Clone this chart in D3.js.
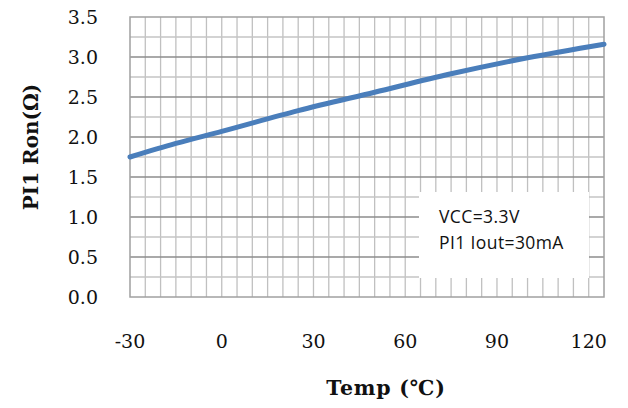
<!DOCTYPE html>
<html>
<head>
<meta charset="utf-8">
<script src="https://cdn.jsdelivr.net/npm/d3@7"></script>
<style>
  html, body { margin: 0; padding: 0; background: #fff; }
  svg { display: block; }
</style>
</head>
<body>
<div id="chart"></div>
<script>
// measured Ron vs temperature
const temps = [-30, -15, 0, 25, 50, 75, 100, 125];
const ron   = [1.75, 1.92, 2.07, 2.33, 2.56, 2.79, 2.99, 3.16];
const xTicks = [-30, 0, 30, 60, 90, 120];
const yTicks = [0, 0.5, 1, 1.5, 2, 2.5, 3, 3.5];
const notes = ['VCC=3.3V', 'PI1 Iout=30mA'];

const W = 628, H = 408, m = { t: 17, r: 24, b: 111, l: 130 };
const x = d3.scaleLinear().domain([-30, 125]).range([m.l, W - m.r]);
const y = d3.scaleLinear().domain([0, 3.5]).range([H - m.b, m.t]);

const svg = d3.select('#chart').append('svg').attr('width', W).attr('height', H);

// grid: vertical every 5 deg, horizontal every 0.25 (darker on 0.5)
svg.append('g').selectAll('line').data(d3.range(-25, 125, 5)).join('line')
  .attr('x1', d => x(d)).attr('x2', d => x(d)).attr('y1', y(0)).attr('y2', y(3.5))
  .attr('stroke', '#c0c0c0').attr('stroke-width', 1.3);
svg.append('g').selectAll('line').data(d3.range(0.25, 3.5, 0.25)).join('line')
  .attr('x1', x(-30)).attr('x2', x(125)).attr('y1', d => y(d)).attr('y2', d => y(d))
  .attr('stroke', d => Math.abs(d * 2 - Math.round(d * 2)) < 1e-6 ? '#8c8c8c' : '#c4c4c4')
  .attr('stroke-width', 1.3);
svg.append('rect').attr('x', x(-30)).attr('y', y(3.5))
  .attr('width', x(125) - x(-30)).attr('height', y(0) - y(3.5))
  .attr('fill', 'none').attr('stroke', '#a0a0a0').attr('stroke-width', 1.5);

// note box
const box = svg.append('g');
box.append('rect').attr('x', 419).attr('y', 192).attr('width', 170).attr('height', 86).attr('fill', '#fff');
box.selectAll('text').data(notes).join('text')
  .attr('x', 439).attr('y', (d, i) => 223 + i * 26)
  .attr('font-family', '"Open Sans", sans-serif').attr('font-size', 17.5)
  .attr('letter-spacing', 0.4).attr('fill', '#111')
  .text(d => d);

// line
svg.append('path').datum(temps.map((t, i) => [t, ron[i]]))
  .attr('fill', 'none').attr('stroke', '#4a7ebb').attr('stroke-width', 5).attr('stroke-linecap', 'round')
  .attr('d', d3.line().x(d => x(d[0])).y(d => y(d[1])).curve(d3.curveMonotoneX));

// tick labels
const serif = '"DejaVu Serif", serif';
svg.append('g').selectAll('text').data(yTicks).join('text')
  .attr('x', 98).attr('y', d => y(d) + 7).attr('text-anchor', 'end')
  .attr('font-family', serif).attr('font-size', 19).attr('fill', '#111')
  .text(d3.format('.1f'));
svg.append('g').selectAll('text').data(xTicks).join('text')
  .attr('x', d => x(d)).attr('y', 348).attr('text-anchor', 'middle')
  .attr('font-family', serif).attr('font-size', 19).attr('fill', '#111')
  .text(d => d);

// axis titles
svg.append('text').attr('x', 386).attr('y', 395).attr('text-anchor', 'middle')
  .attr('font-family', serif).attr('font-weight', 'bold').attr('font-size', 20.5)
  .attr('letter-spacing', 0.8).attr('fill', '#111')
  .text('Temp (℃)');
svg.append('text').attr('transform', 'translate(38,147) rotate(-90)').attr('text-anchor', 'middle')
  .attr('font-family', serif).attr('font-weight', 'bold').attr('font-size', 20).attr('fill', '#111')
  .text('PI1 Ron(Ω)');
</script>
</body>
</html>
